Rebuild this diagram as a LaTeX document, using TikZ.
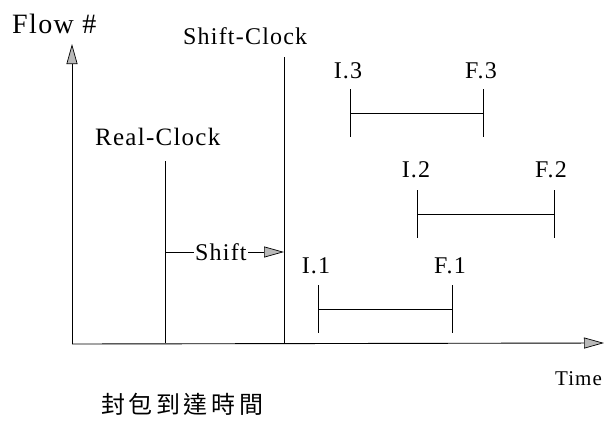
\documentclass[tikz,border=0pt]{standalone}
\usepackage{fontspec}
\setmainfont{Liberation Serif}
\newfontfamily\lblfont[LetterSpace=5]{Liberation Serif}
\newfontfamily\cjkfont[LetterSpace=15]{Noto Sans CJK TC}
\usetikzlibrary{arrows.meta}
\begin{document}
\begin{tikzpicture}[x=1pt,y=-1pt,
  ln/.style={line width=0.9pt,black},
  tip/.style={-{Triangle[length=20pt,width=11pt,fill=gray!55,line width=0.7pt]}},
  lbl/.style={inner sep=0pt,anchor=base,font=\lblfont\fontsize{24}{28}\selectfont},
  lblw/.style={lbl,anchor=base west}]
\useasboundingbox (0,0) rectangle (608,421);
% axes
\coordinate (O) at (72,344);
\coordinate (ytop) at (72,44);
\coordinate (xend) at (604,343);
\draw[ln,tip] (O) -- (ytop);
\draw[ln,tip] (O) -- (xend);
% clocks
\coordinate (rc0) at (165,343);
\coordinate (rc1) at (165,161);
\coordinate (sc0) at (284,343);
\coordinate (sc1) at (284,57);
\draw[ln] (rc0) -- (rc1);
\draw[ln] (sc0) -- (sc1);
\coordinate (sa) at (165,252);
\coordinate (sb) at (284,252);
\draw[ln,tip] (sa) -- node[fill=white,inner sep=1pt,pos=0.47,font=\lblfont\fontsize{24}{28}\selectfont] (shift) {Shift} (sb);
% intervals
\foreach \n/\xa/\xb/\yy in {1/318/452/309, 2/417/554/214, 3/350/483/113}{
  \coordinate (i\n t) at (\xa,\yy-24);
  \coordinate (i\n b) at (\xa,\yy+24);
  \coordinate (f\n t) at (\xb,\yy-24);
  \coordinate (f\n b) at (\xb,\yy+24);
  \coordinate (i\n m) at (\xa,\yy);
  \coordinate (f\n m) at (\xb,\yy);
  \draw[ln] (i\n t) -- (i\n b);
  \draw[ln] (f\n t) -- (f\n b);
  \draw[ln] (i\n m) -- (f\n m);
}
% labels
\node[lbl] (li3) at (348,78) {I.3};
\node[lbl] (lf3) at (481,78) {F.3};
\node[lbl] (li2) at (416,177) {I.2};
\node[lbl] (lf2) at (551,177) {F.2};
\node[lbl] (li1) at (316,273) {I.1};
\node[lbl] (lf1) at (450,273) {F.1};
\node[lblw,font=\lblfont\fontsize{28}{32}\selectfont] (flow) at (12,33) {Flow \#};
\node[lblw] (shc) at (183,44) {Shift-Clock};
\node[lblw,font=\lblfont\fontsize{25}{29}\selectfont] (rlc) at (95,145) {Real-Clock};
\node[lblw,font=\lblfont\fontsize{21}{25}\selectfont] (time) at (555,385) {Time};
\node[inner sep=0pt,anchor=west,font=\cjkfont\fontsize{24}{28}\selectfont] (cjk) at (101,404) {封包到達時間};
\end{tikzpicture}
\end{document}
